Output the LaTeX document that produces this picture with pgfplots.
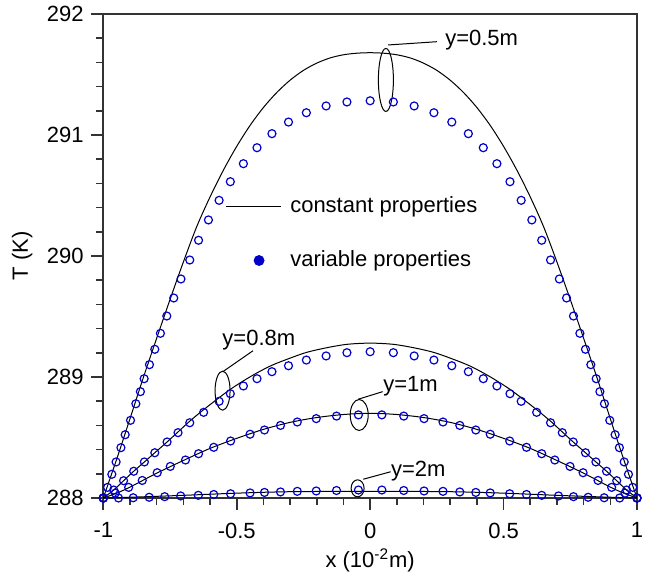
\documentclass[border=0pt]{standalone}
\usepackage{fontspec}
\setmainfont{Liberation Sans}
\usepackage{pgfplots}
\pgfplotsset{compat=1.18}
\definecolor{markblue}{RGB}{0,0,200}

\begin{document}
\fontsize{11}{13}\selectfont
\begin{tikzpicture}
\begin{axis}[
    at={(0pt,0pt)}, anchor=south west,
    scale only axis,
    width=266.85pt, height=242pt,
    xmin=-1, xmax=1, ymin=288, ymax=292,
    xtick={-1,-0.5,0,0.5,1},
    ytick={288,289,290,291,292},
    minor x tick num=4, minor y tick num=4,
    tick align=outside,
    xtick pos=bottom, ytick pos=left,
    major tick length=6pt, minor tick length=3.6pt,
    axis line style={line width=0.8pt, black!80},
    every tick/.style={line width=0.8pt, black!80},
    /pgf/number format/assume math mode=true,
    xticklabel style={yshift=-2.5pt},
    xlabel={x (10\textsuperscript{-2}m)},
    ylabel={T (K)},
    xlabel style={at={(axis description cs:0.5,-0.128)}, anchor=center},
    ylabel style={at={(axis description cs:-0.152,0.5)}, anchor=center},
    legend style={at={(axis cs:-0.544,290.187)}, anchor=west, draw=none,
        fill=none, inner sep=0pt, row sep=13.5pt, font=\fontsize{11}{13}\selectfont},
    legend cell align=left,
]

% legend entries
\addlegendimage{legend image code/.code={\draw[black,line width=0.5pt] (0pt,0pt) -- (27.5pt,0pt);}}
\addlegendentry{constant properties}
\addlegendimage{legend image code/.code={\fill[markblue] (16.6pt,0pt) circle (2.5pt); \path (0pt,0pt) (30pt,0pt);}}
\addlegendentry{variable properties}

% constant properties
\addplot[black, line width=0.5pt, smooth, forget plot] coordinates {
(-1,288.000)(-0.95,288.320)(-0.9,288.655)(-0.85,288.995)(-0.8,289.320)
(-0.75,289.640)(-0.7,289.950)(-0.65,290.242)(-0.6,290.488)(-0.55,290.709)
(-0.5,290.906)(-0.45,291.079)(-0.4,291.227)(-0.35,291.351)(-0.3,291.453)
(-0.25,291.534)(-0.2,291.594)(-0.15,291.637)(-0.1,291.663)(-0.05,291.676)
(0,291.680)
(0.05,291.676)(0.1,291.663)(0.15,291.637)(0.2,291.594)(0.25,291.534)
(0.3,291.453)(0.35,291.351)(0.4,291.227)(0.45,291.079)(0.5,290.906)
(0.55,290.709)(0.6,290.488)(0.65,290.242)(0.7,289.950)(0.75,289.640)
(0.8,289.320)(0.85,288.995)(0.9,288.655)(0.95,288.320)(1,288.000)
};
\addplot[black, line width=0.5pt, smooth, forget plot] coordinates {
(-1,288.000)(-0.961,288.066)(-0.924,288.143)(-0.886,288.221)(-0.846,288.298)
(-0.807,288.374)(-0.761,288.463)(-0.720,288.546)(-0.676,288.635)(-0.624,288.730)
(-0.566,288.829)(-0.524,288.898)(-0.475,288.968)(-0.424,289.034)(-0.368,289.097)
(-0.306,289.151)(-0.239,289.203)(-0.165,289.241)(-0.087,289.270)(0,289.280)
(0.087,289.270)(0.165,289.241)(0.239,289.203)(0.306,289.151)(0.368,289.097)
(0.424,289.034)(0.475,288.968)(0.524,288.898)(0.566,288.829)(0.624,288.730)
(0.676,288.635)(0.720,288.546)(0.761,288.463)(0.807,288.374)(0.846,288.298)
(0.886,288.221)(0.924,288.143)(0.961,288.066)(1,288.000)
};
\addplot[black, line width=0.5pt, smooth, forget plot] coordinates {
(-1,288.000)(-0.95,288.040)(-0.9,288.090)(-0.8,288.205)(-0.7,288.310)
(-0.6,288.410)(-0.5,288.493)(-0.4,288.567)(-0.3,288.625)(-0.2,288.665)
(-0.1,288.690)(0,288.700)(0.1,288.690)(0.2,288.665)(0.3,288.625)
(0.4,288.567)(0.5,288.493)(0.6,288.410)(0.7,288.310)(0.8,288.205)
(0.9,288.090)(0.95,288.040)(1,288.000)
};
\addplot[black, line width=0.5pt, smooth, forget plot] coordinates {
(-1,288.000)(-0.95,288.003)(-0.85,288.010)(-0.7,288.022)(-0.5,288.040)
(-0.3,288.052)(0,288.055)(0.3,288.052)(0.5,288.040)(0.7,288.022)
(0.85,288.010)(0.95,288.003)(1,288.000)
};

% variable properties
\pgfplotsset{varmark/.style={only marks, mark=o, mark size=2pt, markblue,
    mark options={line width=0.6pt}, forget plot}}
\addplot[varmark] coordinates {
(-1,288.000)(-0.984,288.088)(-0.968,288.196)(-0.952,288.298)(-0.934,288.416)
(-0.918,288.523)(-0.898,288.642)(-0.878,288.779)(-0.861,288.879)(-0.847,288.986)
(-0.827,289.102)(-0.807,289.229)(-0.786,289.361)(-0.762,289.504)(-0.736,289.653)
(-0.709,289.810)(-0.676,289.967)(-0.643,290.130)(-0.606,290.298)(-0.566,290.460)
(-0.524,290.614)(-0.475,290.763)(-0.424,290.895)(-0.368,291.011)(-0.306,291.107)
(-0.239,291.184)(-0.165,291.240)(-0.087,291.273)(0,291.283)
(0.087,291.273)(0.165,291.240)(0.239,291.184)(0.306,291.107)(0.368,291.011)
(0.424,290.895)(0.475,290.763)(0.524,290.614)(0.566,290.460)(0.606,290.298)
(0.643,290.130)(0.676,289.967)(0.709,289.810)(0.736,289.653)(0.762,289.504)
(0.786,289.361)(0.807,289.229)(0.827,289.102)(0.847,288.986)(0.861,288.879)
(0.878,288.779)(0.898,288.642)(0.918,288.523)(0.934,288.416)(0.952,288.298)
(0.968,288.196)(0.984,288.088)(1,288.000)
};
\addplot[varmark] coordinates {
(-1,288.000)(-0.961,288.066)(-0.924,288.143)(-0.886,288.221)(-0.846,288.298)
(-0.807,288.374)(-0.761,288.463)(-0.720,288.540)(-0.676,288.622)(-0.624,288.708)
(-0.566,288.799)(-0.524,288.862)(-0.475,288.926)(-0.424,288.986)(-0.368,289.044)
(-0.306,289.093)(-0.239,289.140)(-0.165,289.174)(-0.087,289.201)(0,289.209)
(0.087,289.201)(0.165,289.174)(0.239,289.140)(0.306,289.093)(0.368,289.044)
(0.424,288.986)(0.475,288.926)(0.524,288.862)(0.566,288.799)(0.624,288.708)
(0.676,288.622)(0.720,288.540)(0.761,288.463)(0.807,288.374)(0.846,288.298)
(0.886,288.221)(0.924,288.143)(0.961,288.066)(1,288.000)
};
\addplot[varmark] coordinates {
(-1,288.000)(-0.955,288.040)(-0.905,288.088)(-0.854,288.145)(-0.798,288.209)
(-0.749,288.261)(-0.692,288.314)(-0.643,288.366)(-0.586,288.419)(-0.523,288.471)
(-0.450,288.527)(-0.396,288.562)(-0.336,288.600)(-0.273,288.628)(-0.202,288.656)
(-0.126,288.677)(-0.044,288.687)
(0.044,288.687)(0.126,288.677)(0.202,288.656)(0.273,288.628)(0.336,288.600)
(0.396,288.562)(0.450,288.527)(0.523,288.471)(0.586,288.419)(0.643,288.366)
(0.692,288.314)(0.749,288.261)(0.798,288.209)(0.854,288.145)(0.905,288.088)
(0.955,288.040)(1,288.000)
};
\addplot[varmark] coordinates {
(-1,288.000)(-0.943,288.000)(-0.888,288.002)(-0.828,288.006)(-0.770,288.011)
(-0.710,288.017)(-0.644,288.022)(-0.586,288.029)(-0.523,288.035)(-0.450,288.042)
(-0.396,288.046)(-0.336,288.050)(-0.273,288.055)(-0.202,288.058)(-0.126,288.062)
(-0.044,288.066)
(0.044,288.066)(0.126,288.062)(0.202,288.058)(0.273,288.055)(0.336,288.050)
(0.396,288.046)(0.450,288.042)(0.523,288.035)(0.586,288.029)(0.643,288.022)
(0.706,288.017)(0.762,288.011)(0.817,288.006)(0.877,288.002)(0.935,288.000)
(1,288.000)
};

% annotations
\draw[black, line width=0.5pt] (axis cs:0.059,291.455) ellipse [x radius=3.75pt, y radius=15.75pt];
\draw[black, line width=0.5pt] (axis cs:0.067,291.744) -- (axis cs:0.250,291.771);
\node[anchor=west, inner sep=0pt] at (axis cs:0.280,291.785) {y=0.5m};

\draw[black, line width=0.5pt] (axis cs:-0.553,288.887) ellipse [x radius=3.75pt, y radius=9.75pt];
\draw[black, line width=0.5pt] (axis cs:-0.552,289.044) -- (axis cs:-0.439,289.217);
\node[anchor=west, inner sep=0pt] at (axis cs:-0.555,289.306) {y=0.8m};

\draw[black, line width=0.5pt] (axis cs:-0.041,288.686) ellipse [x radius=4.5pt, y radius=7.75pt];
\draw[black, line width=0.5pt] (axis cs:-0.045,288.816) -- (axis cs:0.047,288.879);
\node[anchor=west, inner sep=0pt] at (axis cs:0.048,288.920) {y=1m};

\draw[black, line width=0.5pt] (axis cs:-0.047,288.080) ellipse [x radius=3.25pt, y radius=4.25pt];
\draw[black, line width=0.5pt] (axis cs:-0.026,288.155) -- (axis cs:0.077,288.217);
\node[anchor=west, inner sep=0pt] at (axis cs:0.077,288.226) {y=2m};
\end{axis}
\pgfresetboundingbox
\path (-51.65pt,-38pt) rectangle (272.85pt,249pt);
\end{tikzpicture}
\end{document}
